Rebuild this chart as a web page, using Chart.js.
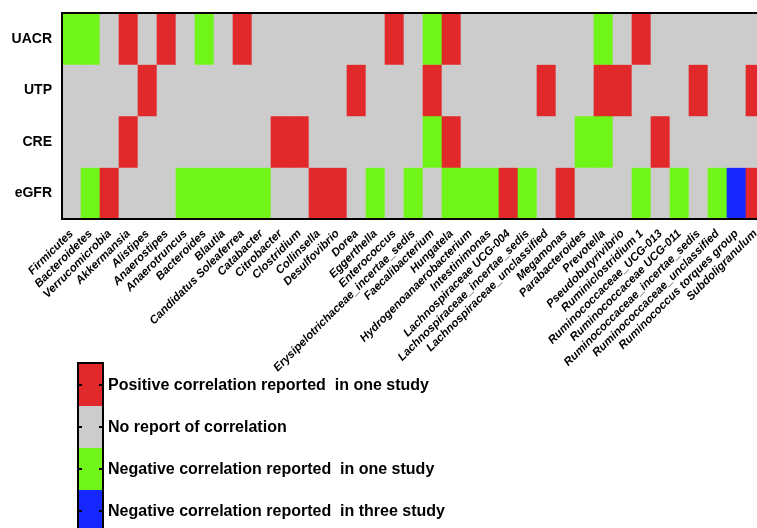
<!DOCTYPE html>
<html>
<head>
<meta charset="utf-8">
<script src="https://cdn.jsdelivr.net/npm/chart.js@4/dist/chart.umd.min.js"></script>
<style>
    html, body { margin: 0; padding: 0; background: #fff; overflow: hidden; }
    #wrap { position: relative; width: 757px; height: 528px; overflow: hidden; }
    #heatmap { position: absolute; left: 0; top: 0; }
    #legend { position: absolute; left: 77px; top: 362px; font: bold 16px "Liberation Sans", Arial, sans-serif; color: #000; }
    .bar { position: absolute; left: 0; top: 0; width: 23px; border: 2px solid #000; }
    .seg { position: relative; height: 42px; }
    .seg .tl, .seg .tr { position: absolute; top: 20px; width: 3px; height: 1.5px; background: #000; }
    .seg .tl { left: 0; }
    .seg .tr { right: 0; }
    .lbl { position: absolute; left: 31px; white-space: pre; line-height: 16px; }
</style>
</head>
<body>
<div id="wrap">
    <canvas id="heatmap" width="765" height="528"></canvas>
    <div id="legend"></div>
</div>
<script>
// --- DATA ---

const taxa = [
    'Firmicutes', 'Bacteroidetes', 'Verrucomicrobia', 'Akkermansia', 'Alistipes',
    'Anaerostipes', 'Anaerotruncus', 'Bacteroides', 'Blautia', 'Candidatus Soleaferrea',
    'Catabacter', 'Citrobacter', 'Clostridium', 'Collinsella', 'Desulfovibrio',
    'Dorea', 'Eggerthella', 'Enterococcus', 'Erysipelotrichaceae_incertae_sedis', 'Faecalibacterium',
    'Hungatela', 'Hydrogenoanaerobacterium', 'Intestinimonas', 'Lachnospiraceae UCG-004', 'Lachnospiraceae_incertae_sedis',
    'Lachnospiraceae_unclassified', 'Megamonas', 'Parabacteroides', 'Prevotella', 'Pseudobutyrivibrio',
    'Ruminiclostridium 1', 'Ruminococcaceae_UCG-013', 'Ruminococcaceae UCG-011', 'Ruminococcaceae_incertae_sedis', 'Ruminococcaceae_unclassified',
    'Ruminococcus torques group', 'Subdoligranulum'
];

const rowNames = ['UACR', 'UTP', 'CRE', 'eGFR'];

// 0 = no report, 1 = positive (one study), 2 = negative (one study), 3 = negative (three studies)
const uacr = [2,2,0,1,0,1,0,2,0,1, 0,0,0,0,0,0,0,1,0,2, 1,0,0,0,0,0,0,0,2,0, 1,0,0,0,0,0,0];
const utp  = [0,0,0,0,1,0,0,0,0,0, 0,0,0,0,0,1,0,0,0,1, 0,0,0,0,0,1,0,0,1,1, 0,0,0,1,0,0,1];
const cre  = [0,0,0,1,0,0,0,0,0,0, 0,1,1,0,0,0,0,0,0,2, 1,0,0,0,0,0,0,2,2,0, 0,1,0,0,0,0,0];
const egfr = [0,2,1,0,0,0,2,2,2,2, 2,0,0,1,1,0,2,0,2,0, 2,2,2,1,2,0,1,0,0,0, 2,0,2,0,2,3,1];

const codeColors = ['#cccccc', '#e1282a', '#70f518', '#1628ff'];

const legendColors = ['#e1282a', '#cccccc', '#70f518', '#1628ff'];
const legendLabels = [
    'Positive correlation reported  in one study',
    'No report of correlation',
    'Negative correlation reported  in one study',
    'Negative correlation reported  in three study'
];

// --- HEATMAP ---

const matrix = [uacr, utp, cre, egfr];

const datasets = rowNames.map((name, r) => ({
    label: name,
    data: taxa.map(() => [r, r + 1]),
    backgroundColor: matrix[r].map(c => codeColors[c]),
    borderWidth: 0,
    barPercentage: 1,
    categoryPercentage: 1
}));

// black frame round the plot area
const framePlugin = {
    id: 'frame',
    afterDatasetsDraw(chart) {
        const { ctx, chartArea: a } = chart;
        ctx.save();
        ctx.strokeStyle = '#000';
        ctx.lineWidth = 2;
        ctx.strokeRect(a.left, a.top, a.right - a.left, a.bottom - a.top);
        ctx.restore();
    }
};

function noPadding(scale) {
    scale.paddingTop = 0;
    scale.paddingBottom = 0;
    scale.paddingLeft = 0;
    scale.paddingRight = 0;
}

new Chart(document.getElementById('heatmap'), {
    type: 'bar',
    data: { labels: taxa, datasets: datasets },
    options: {
        responsive: false,
        animation: false,
        layout: { padding: { top: 13, left: 0, right: 0, bottom: 0 } },
        plugins: { legend: { display: false }, tooltip: { enabled: false } },
        scales: {
            x: {
                stacked: true,
                grid: { display: false, drawTicks: false },
                border: { display: false },
                ticks: {
                    autoSkip: false,
                    maxRotation: 45,
                    minRotation: 45,
                    padding: 8,
                    color: '#000',
                    font: { family: 'Liberation Sans', size: 11.5, weight: 'bold', style: 'italic' }
                },
                afterFit(scale) {
                    noPadding(scale);
                    scale.height = 309;
                }
            },
            y: {
                type: 'linear',
                min: 0,
                max: 4,
                reverse: true,
                grid: { display: false, drawTicks: false },
                border: { display: false },
                afterBuildTicks(scale) {
                    scale.ticks = rowNames.map((n, i) => ({ value: i + 0.5 }));
                },
                ticks: {
                    padding: 10,
                    color: '#000',
                    font: { family: 'Liberation Sans', size: 14, weight: 'bold' },
                    callback: (v) => rowNames[Math.floor(v)]
                },
                afterFit(scale) {
                    noPadding(scale);
                    scale.width = 62;
                }
            }
        }
    },
    plugins: [framePlugin]
});

// --- COLOUR BAR LEGEND ---

function buildLegend() {
    const legend = document.getElementById('legend');
    const bar = document.createElement('div');
    bar.className = 'bar';
    legendColors.forEach((col, i) => {
        const seg = document.createElement('div');
        seg.className = 'seg';
        seg.style.background = col;
        seg.innerHTML = '<div class="tl"></div><div class="tr"></div>';
        bar.appendChild(seg);

        const lbl = document.createElement('div');
        lbl.className = 'lbl';
        lbl.style.top = (2 + i * 42 + 21 - 8) + 'px';
        lbl.textContent = legendLabels[i];
        legend.appendChild(lbl);
    });
    legend.appendChild(bar);
}

buildLegend();
</script>
</body>
</html>
